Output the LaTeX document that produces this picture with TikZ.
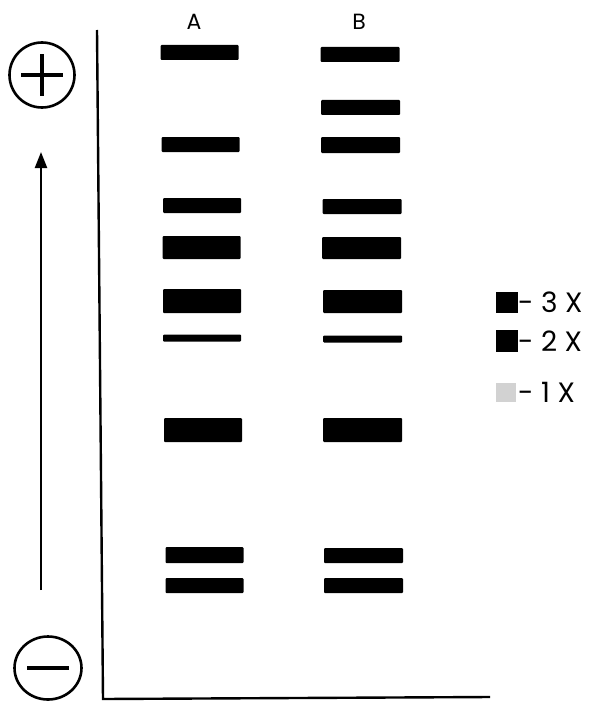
\documentclass[tikz,border=0pt]{standalone}
\usepackage{fontspec}
\setmainfont{Poppins}
\usetikzlibrary{arrows.meta,shapes.geometric}
\begin{document}
\begin{tikzpicture}[x=1pt,y=-1pt,
  bandA/.style={fill=black,rounded corners=1pt,inner sep=0pt,minimum width=78pt},
  bandB/.style={fill=black,rounded corners=1pt,inner sep=0pt,minimum width=79pt},
  lane/.style={font=\fontsize{22}{22}\selectfont,inner sep=0pt},
  legtxt/.style={font=\fontsize{28}{28}\selectfont,inner sep=0pt,anchor=west},
  pole/.style={draw=black,line width=2.6pt,circle,minimum size=65pt,inner sep=0pt},
  sign/.style={line width=3.6pt},
  axisline/.style={line width=2.4pt}]
\useasboundingbox (0,0) rectangle (594,706);
% lane labels
\node[lane] (labA) at (194,22) {A};
\node[lane] (labB) at (359,22) {B};
% axes
\coordinate (ax1) at (97,30);
\coordinate (ax2) at (103,699);
\coordinate (ax3) at (490,697);
\draw[axisline] (ax1) -- (ax2) -- (ax3);
% poles
\node[pole] (plus) at (42,75) {};
\draw[sign] ([xshift=-21pt]plus.center) -- ([xshift=21pt]plus.center);
\draw[sign] ([yshift=-21pt]plus.center) -- ([yshift=21pt]plus.center);
\node[draw=black,line width=2.6pt,ellipse,inner sep=0pt,minimum width=67pt,minimum height=63pt] (minus) at (48,668) {};
\draw[sign] ([xshift=-21pt]minus.center) -- ([xshift=21pt]minus.center);
% migration arrow
\coordinate (arS) at (41,590);
\coordinate (arE) at (41,152);
\draw[line width=2.2pt,-{Triangle[length=16pt,width=12pt]}] (arS) -- (arE);
% lane A bands
\node[bandA,minimum height=15pt] (a1) at (199.5,52.5) {};
\node[bandA,minimum height=15pt] (a2) at (200.5,144.5) {};
\node[bandA,minimum height=15pt] (a3) at (202,205.5) {};
\node[bandA,minimum height=23pt] (a4) at (201.5,247.5) {};
\node[bandA,minimum height=24pt] (a5) at (202,301) {};
\node[bandA,minimum height=7pt] (a6) at (202,338) {};
\node[bandA,minimum height=24pt] (a7) at (203,430) {};
\node[bandA,minimum height=16pt] (a8) at (204.5,555) {};
\node[bandA,minimum height=15pt] (a9) at (204.5,585.5) {};
% lane B bands
\node[bandB,minimum height=15pt] (b1) at (360,54.5) {};
\node[bandB,minimum height=15pt] (b2) at (360.5,107.5) {};
\node[bandB,minimum height=16pt] (b3) at (360.5,145) {};
\node[bandB,minimum height=15pt] (b4) at (362,206.5) {};
\node[bandB,minimum height=22pt] (b5) at (361.5,248) {};
\node[bandB,minimum height=23pt] (b6) at (362.5,301.5) {};
\node[bandB,minimum height=7pt] (b7) at (362.5,339) {};
\node[bandB,minimum height=24pt] (b8) at (362.5,430) {};
\node[bandB,minimum height=15pt] (b9) at (363.5,555.5) {};
\node[bandB,minimum height=15pt] (b10) at (363.5,585.5) {};
% legend
\node[fill=black,inner sep=0pt,minimum width=22pt,minimum height=21pt] (k3) at (506.5,302.5) {};
\node[fill=black,inner sep=0pt,minimum width=22pt,minimum height=22pt] (k2) at (506.5,341) {};
\node[fill=gray!35,inner sep=0pt,minimum width=20pt,minimum height=19pt] (k1) at (506,392) {};
\node[legtxt] (t3) at (518,302) {- 3 X};
\node[legtxt] (t2) at (518,341) {- 2 X};
\node[legtxt] (t1) at (518,392) {- 1 X};
\end{tikzpicture}
\end{document}
